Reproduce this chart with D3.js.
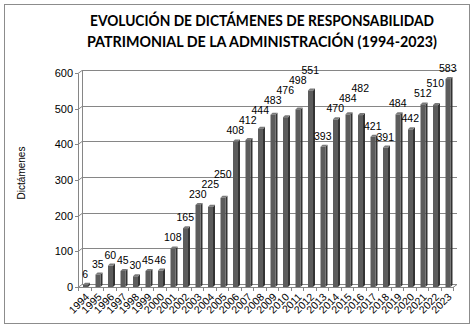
<!DOCTYPE html>
<html>
<head>
<meta charset="utf-8">
<script src="https://cdn.jsdelivr.net/npm/d3@7"></script>
<style>
  html, body { margin: 0; padding: 0; background: #fff; }
  svg { display: block; }
</style>
</head>
<body>
<svg id="chart" width="475" height="329"></svg>
<script>
const years = ["1994","1995","1996","1997","1998","1999","2000","2001","2002","2003","2004","2005","2006","2007","2008","2009","2010","2011","2012","2013","2014","2015","2016","2017","2018","2019","2020","2021","2022","2023"];
const values = [6,35,60,45,30,45,46,108,165,230,225,250,408,412,444,483,476,498,551,393,470,484,482,421,391,484,442,512,510,583];
const yTicks = [0,100,200,300,400,500,600];
const titleLines = ["EVOLUCIÓN DE DICTÁMENES DE RESPONSABILIDAD", "PATRIMONIAL DE LA ADMINISTRACIÓN (1994-2023)"];
const yAxisTitle = "Dictámenes";

(function () {
const svg = d3.select("#chart");
const pL = 78, pR = 453, pB = 287, pT = 73;
const dx = 4, dy = -3;       // depth offset of back wall
const bdx = 2, bdy = -2;     // depth of bars

// frame
svg.append("rect").attr("x", 4.5).attr("y", 4.5).attr("width", 465).attr("height", 319)
  .attr("fill", "#fff").attr("stroke", "#8c8c8c").attr("stroke-width", 1);

// title
const titleG = svg.append("g").attr("font-family", "Lato, 'Open Sans', sans-serif")
  .attr("font-weight", "bold").attr("font-size", 16).attr("fill", "#000");
titleG.selectAll("text").data(titleLines).join("text")
  .attr("x", 262).attr("y", (d, i) => 26 + i * 21)
  .attr("text-anchor", "middle")
  .attr("textLength", (d, i) => i === 0 ? 344 : 350)
  .attr("lengthAdjust", "spacingAndGlyphs")
  .text(d => d);

const x = d3.scaleBand().domain(years).range([pL, pR]).paddingInner(0).paddingOuter(0);
const y = d3.scaleLinear().domain([0, 600]).range([pB, pT]);

// gridlines on back wall
const grid = svg.append("g").attr("stroke", "#868686").attr("fill", "none").attr("stroke-width", 1);
yTicks.forEach(t => {
  const yy = Math.round(y(t)) + 0.5;
  grid.append("path").attr("d", `M${pL},${yy} L${pL + dx},${yy + dy} L${pR + dx},${yy + dy}`);
});
grid.append("path").attr("d", `M${pL + dx + 0.5},${Math.round(y(600)) + 0.5 + dy} L${pL + dx + 0.5},${Math.round(y(0)) + 0.5 + dy}`);
grid.append("path").attr("d", `M${pR},${pB + 0.5} L${pR + dx},${pB + 0.5 + dy}`);

// bars (pseudo-3D)
const bars = svg.append("g");
const fw = 5;
years.forEach((yr, i) => {
  const v = values[i];
  const x0 = x(yr) + x.bandwidth() / 2 - 1.25;
  const yTop = y(v);
  bars.append("path")
    .attr("d", `M${x0 + fw},${pB} L${x0 + fw + bdx},${pB + bdy} L${x0 + fw + bdx},${yTop + bdy} L${x0 + fw},${yTop} Z`)
    .attr("fill", "#333333");
  bars.append("path")
    .attr("d", `M${x0},${yTop} L${x0 + bdx},${yTop + bdy} L${x0 + fw + bdx},${yTop + bdy} L${x0 + fw},${yTop} Z`)
    .attr("fill", "#7a7a7a");
  bars.append("rect").attr("x", x0).attr("y", yTop).attr("width", fw).attr("height", pB - yTop)
    .attr("fill", "#5c5c5c");
});

// front axis lines
const ax = svg.append("g").attr("stroke", "#868686").attr("stroke-width", 1).attr("fill", "none");
ax.append("path").attr("d", `M${pL + 0.5},${Math.round(y(600)) + 0.5} L${pL + 0.5},${pB + 0.5}`);
ax.append("path").attr("d", `M${pL},${pB + 0.5} L${pR},${pB + 0.5}`);
yTicks.forEach(t => {
  const yy = Math.round(y(t)) + 0.5;
  ax.append("path").attr("d", `M${pL - 3},${yy} L${pL},${yy}`);
});
d3.range(years.length + 1).forEach(i => {
  const xx = Math.round(pL + i * x.step()) + 0.5;
  ax.append("path").attr("d", `M${xx},${pB} L${xx},${pB + 4}`);
});

// y tick labels
svg.append("g").attr("font-family", "'Liberation Sans', Arial, sans-serif").attr("font-size", 11).attr("fill", "#000")
  .selectAll("text").data(yTicks).join("text")
  .attr("x", 73).attr("y", d => y(d)).attr("dy", "0.35em").attr("text-anchor", "end")
  .text(d => d);

// x tick labels
svg.append("g").attr("font-family", "'Liberation Sans', Arial, sans-serif").attr("font-size", 10.5).attr("fill", "#000")
  .selectAll("text").data(years).join("text")
  .attr("transform", d => `translate(${x(d) + x.bandwidth() / 2 + 3},${pB + 8}) rotate(-45)`)
  .attr("text-anchor", "end").attr("dy", "0.35em")
  .text(d => d);

// data labels with simple collision avoidance (push up)
const lg = svg.append("g").attr("font-family", "'Liberation Sans', Arial, sans-serif").attr("font-size", 10.5).attr("fill", "#000");
const labels = lg.selectAll("text").data(values).join("text")
  .attr("x", (d, i) => x(years[i]) + x.bandwidth() / 2 + 1)
  .attr("text-anchor", "middle")
  .text(d => d);
const placed = [];
const lh = 9;
labels.each(function (d, i) {
  const w = this.getComputedTextLength();
  const cx = x(years[i]) + x.bandwidth() / 2 + 1;
  let base = y(d) - 7;
  let moved = true, guard = 0;
  while (moved && guard++ < 20) {
    moved = false;
    for (const p of placed) {
      const hOverlap = Math.min(cx + w / 2, p.cx + p.w / 2) - Math.max(cx - w / 2, p.cx - p.w / 2) > 0.5;
      const vOverlap = Math.min(base, p.base) - Math.max(base - lh, p.base - lh) > 0;
      if (hOverlap && vOverlap) { base = p.base - lh - 1; moved = true; }
    }
  }
  placed.push({ cx, w, base });
  d3.select(this).attr("y", base);
});

// y axis title
svg.append("text").attr("font-family", "'Liberation Sans', Arial, sans-serif").attr("font-size", 10).attr("fill", "#000")
  .attr("transform", "translate(25,173) rotate(-90)").attr("text-anchor", "middle")
  .text(yAxisTitle);
})();
</script>
</body>
</html>
